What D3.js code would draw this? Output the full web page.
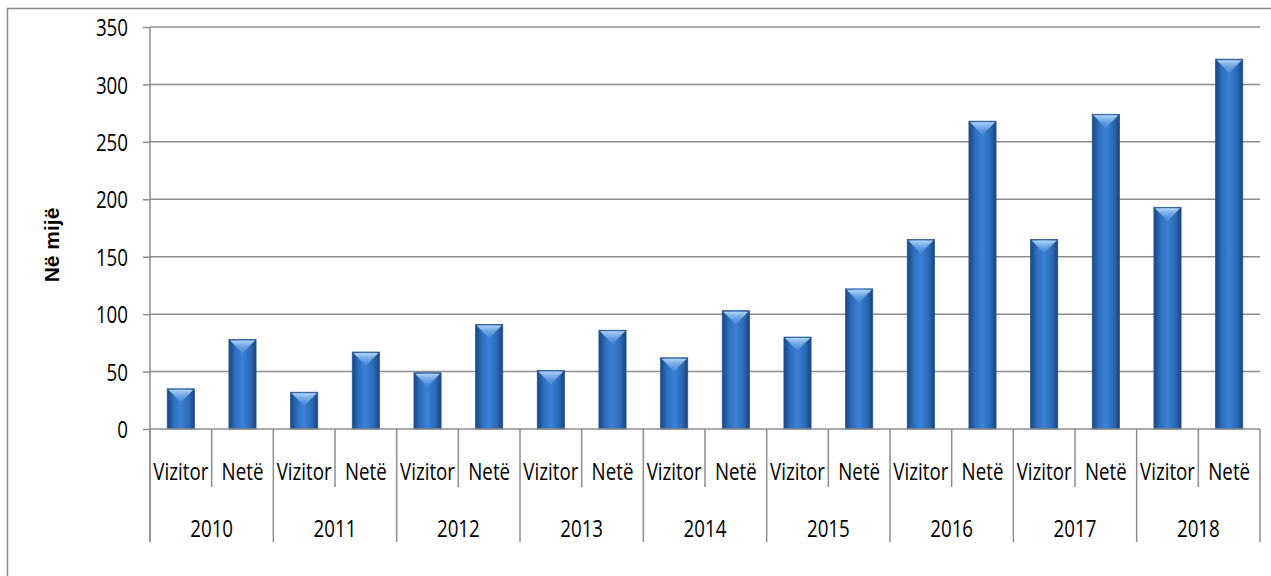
<!DOCTYPE html>
<html>
<head>
<meta charset="utf-8">
<script src="https://cdn.jsdelivr.net/npm/d3@7"></script>
<style>
  body { margin: 0; background: #fff; }
  text { font-family: "Open Sans", sans-serif; fill: #000; }
</style>
</head>
<body>
<div id="chart"></div>
<script>
// data (thousands)
const years = ["2010", "2011", "2012", "2013", "2014", "2015", "2016", "2017", "2018"];
const kinds = ["Vizitor", "Netë"];
const vizitor = [35, 32, 49, 51, 62, 80, 165, 165, 193];
const nete = [78, 67, 91, 86, 103, 122, 268, 274, 322];
const yTicks = [0, 50, 100, 150, 200, 250, 300, 350];

const W = 1271, H = 576;
const plotLeft = 150, plotRight = 1260, plotTop = 27, plotBottom = 429;
const squeeze = 0.78; // narrow the label font like the original

const svg = d3.select("#chart").append("svg")
    .attr("width", W)
    .attr("height", H);

// outer frame (only top and left visible)
svg.append("path")
    .attr("d", "M7.5," + H + "V8.5H" + W)
    .attr("fill", "none")
    .attr("stroke", "#8a8a8a")
    .attr("stroke-width", 1.5);

// flat list of bars
const rows = [];
years.forEach((y, i) => {
  rows.push({ year: y, kind: kinds[0], value: vizitor[i] });
  rows.push({ year: y, kind: kinds[1], value: nete[i] });
});

const x = d3.scaleBand()
    .domain(d3.range(rows.length))
    .range([plotLeft, plotRight])
    .paddingInner(0.56)
    .paddingOuter(0.28);
const step = x.step();
const yScale = d3.scaleLinear().domain([0, 350]).range([plotBottom, plotTop]);

// gradients
const defs = svg.append("defs");
const g1 = defs.append("linearGradient").attr("id", "barGrad")
    .attr("x1", "0").attr("x2", "1").attr("y1", "0").attr("y2", "0");
g1.append("stop").attr("offset", "0%").attr("stop-color", "#1b4580");
g1.append("stop").attr("offset", "25%").attr("stop-color", "#2e70c2");
g1.append("stop").attr("offset", "50%").attr("stop-color", "#3a82d6");
g1.append("stop").attr("offset", "80%").attr("stop-color", "#2b68b3");
g1.append("stop").attr("offset", "100%").attr("stop-color", "#1a437d");
const g2 = defs.append("linearGradient").attr("id", "capGrad")
    .attr("x1", "0").attr("x2", "0").attr("y1", "0").attr("y2", "1");
g2.append("stop").attr("offset", "0%").attr("stop-color", "#b3d6fa");
g2.append("stop").attr("offset", "100%").attr("stop-color", "#5b9be0").attr("stop-opacity", 0.3);

// gridlines
svg.append("g")
    .selectAll("line")
    .data(yTicks.slice(1))
    .enter().append("line")
    .attr("x1", plotLeft).attr("x2", plotRight)
    .attr("y1", d => yScale(d)).attr("y2", d => yScale(d))
    .attr("stroke", "#8c8c8c")
    .attr("stroke-width", 1.5);

// y axis
const yAxis = svg.append("g")
    .attr("transform", "translate(" + plotLeft + ",0)")
    .call(d3.axisLeft(yScale).tickValues(yTicks).tickSize(7));
yAxis.select(".domain").attr("stroke", "#8c8c8c").attr("stroke-width", 1.5)
    .attr("d", "M0," + plotTop + "V542");
yAxis.selectAll(".tick line").attr("stroke", "#8c8c8c").attr("stroke-width", 1.5);
yAxis.selectAll(".tick text")
    .attr("x", 0)
    .attr("dy", "0.36em")
    .attr("transform", "translate(-22,0) scale(" + squeeze + ",1)")
    .style("font-size", "24px")
    .style("font-family", '"Open Sans", sans-serif')
    .attr("fill", "#000");

// y label
svg.append("text")
    .attr("transform", "translate(59,245) rotate(-90)")
    .attr("text-anchor", "middle")
    .style("font-family", "Arial, 'Liberation Sans', sans-serif")
    .style("font-weight", "bold")
    .style("font-size", "21px")
    .text("Në mijë");

// bars
const bars = svg.append("g").selectAll("g")
    .data(rows)
    .enter().append("g");
bars.append("rect")
    .attr("x", (d, i) => x(i))
    .attr("width", x.bandwidth())
    .attr("y", d => yScale(d.value))
    .attr("height", d => plotBottom - yScale(d.value))
    .attr("fill", "url(#barGrad)")
    .attr("stroke", "#24578f")
    .attr("stroke-width", 0.8);
bars.append("path")
    .attr("d", (d, i) => {
      const x0 = x(i) + 1, x1 = x(i) + x.bandwidth() - 1, y0 = yScale(d.value) + 1;
      return "M" + x0 + "," + y0 + "L" + x1 + "," + y0 + "L" + (x1 - 3) + "," + (y0 + 3) +
        "L" + ((x0 + x1) / 2) + "," + (y0 + 13) + "L" + (x0 + 3) + "," + (y0 + 3) + "Z";
    })
    .attr("fill", "url(#capGrad)");

// x axis line at zero
svg.append("line")
    .attr("x1", plotLeft).attr("x2", plotRight)
    .attr("y1", plotBottom).attr("y2", plotBottom)
    .attr("stroke", "#8c8c8c").attr("stroke-width", 1.5);

// category tick separators
const bounds = d3.range(rows.length + 1);
svg.append("g").selectAll("line")
    .data(bounds)
    .enter().append("line")
    .attr("x1", i => plotLeft + i * step).attr("x2", i => plotLeft + i * step)
    .attr("y1", plotBottom)
    .attr("y2", i => (i % 2 === 0 ? 542 : 487))
    .attr("stroke", "#8c8c8c").attr("stroke-width", 1.5);

// inner labels
svg.append("g").selectAll("text")
    .data(rows)
    .enter().append("text")
    .attr("transform", (d, i) => "translate(" + (plotLeft + (i + 0.5) * step) + ",480) scale(" + squeeze + ",1)")
    .attr("text-anchor", "middle")
    .style("font-size", "24px")
    .text(d => d.kind);

// year labels
svg.append("g").selectAll("text")
    .data(years)
    .enter().append("text")
    .attr("transform", (d, i) => "translate(" + (plotLeft + (i * 2 + 1) * step) + ",537) scale(" + squeeze + ",1)")
    .attr("text-anchor", "middle")
    .style("font-size", "24px")
    .text(d => d);
</script>
</body>
</html>
